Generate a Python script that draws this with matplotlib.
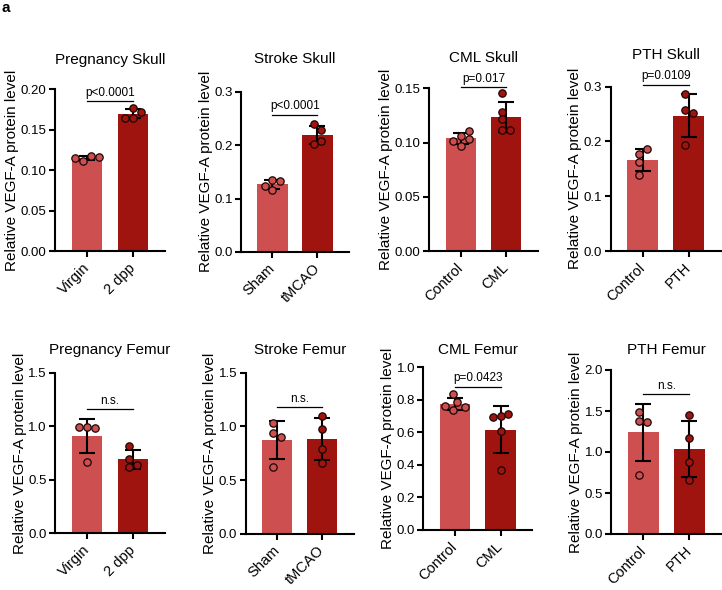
import numpy as np
import matplotlib
matplotlib.use("Agg")
import matplotlib.pyplot as plt

plt.rcParams['font.family'] = ['Liberation Sans', 'DejaVu Sans']

# values (individual animals)
preg_skull_virgin = [0.111, 0.118, 0.1145, 0.1165]
preg_skull_2dpp = [0.165, 0.1715, 0.165, 0.1765]
stroke_skull_sham = [0.1347, 0.133, 0.116, 0.124]
stroke_skull_tmcao = [0.2395, 0.228, 0.203, 0.2077]
cml_skull_control = [0.1064, 0.0968, 0.1033, 0.1017, 0.1107]
cml_skull_cml = [0.1454, 0.1285, 0.1214, 0.1116, 0.1116]
pth_skull_control = [0.178, 0.1856, 0.163, 0.1387]
pth_skull_pth = [0.2866, 0.257, 0.2525, 0.1935]

preg_femur_virgin = [0.996, 0.98, 0.996, 0.669]
preg_femur_2dpp = [0.815, 0.694, 0.616, 0.638]
stroke_femur_sham = [1.035, 0.942, 0.899, 0.626]
stroke_femur_tmcao = [1.097, 0.976, 0.790, 0.657]
cml_femur_control = [0.834, 0.789, 0.738, 0.762, 0.754]
cml_femur_cml = [0.701, 0.711, 0.693, 0.611, 0.369]
pth_femur_control = [1.492, 1.378, 1.362, 0.7195]
pth_femur_pth = [1.447, 1.167, 0.874, 0.659]

titles = ['Pregnancy Skull', 'Stroke Skull', 'CML Skull', 'PTH Skull',
          'Pregnancy Femur', 'Stroke Femur', 'CML Femur', 'PTH Femur']
group_labels = [['Virgin', '2 dpp'], ['Sham', 'tMCAO'], ['Control', 'CML'], ['Control', 'PTH'],
                ['Virgin', '2 dpp'], ['Sham', 'tMCAO'], ['Control', 'CML'], ['Control', 'PTH']]
group_values = [
    [preg_skull_virgin, preg_skull_2dpp],
    [stroke_skull_sham, stroke_skull_tmcao],
    [cml_skull_control, cml_skull_cml],
    [pth_skull_control, pth_skull_pth],
    [preg_femur_virgin, preg_femur_2dpp],
    [stroke_femur_sham, stroke_femur_tmcao],
    [cml_femur_control, cml_femur_cml],
    [pth_femur_control, pth_femur_pth],
]
sig_labels = ['p<0.0001', 'p<0.0001', 'p=0.017', 'p=0.0109',
              'n.s.', 'n.s.', 'p=0.0423', 'n.s.']
sig_heights = [0.1855, 0.257, 0.151, 0.3036, 1.158, 1.178, 0.881, 1.707]
y_max = [0.20, 0.3, 0.15, 0.3, 1.5, 1.5, 1.0, 2.0]
y_step = [0.05, 0.1, 0.05, 0.1, 0.5, 0.5, 0.2, 0.5]
y_decimals = [2, 1, 2, 1, 1, 1, 1, 1]

# layout in pixels: left, bottom, width, top
W, H = 722, 590
rects = [(55, 251, 110, 89.3), (241, 252, 108, 91.7), (429, 251, 109, 88.3), (610.7, 251, 110, 86.7),
         (55, 533.3, 110, 372.7), (245.7, 534, 108, 372.7), (423.3, 530, 109, 367.3), (611.3, 534, 110, 370)]
title_base = [64, 62.7, 61.7, 59.3, 354, 354, 354, 354]

colors = ['#CD4F4F', '#A0140F']
marker_d = 7.8  # px


def swarm(ax, x0, vals, d):
    # greedy beeswarm in pixel space, then recentred on the bar
    pts = ax.transData.transform(np.column_stack([np.full(len(vals), x0), vals]))
    ys = pts[:, 1]
    unit = ax.transData.transform([(1, 0)])[0, 0] - ax.transData.transform([(0, 0)])[0, 0]
    placed = []
    cands = [0.0]
    for i in range(1, 12):
        cands += [i * d * 0.5, -i * d * 0.5]
    for y in ys:
        for c in cands:
            if all((c - px) ** 2 + (y - py) ** 2 >= (d * 0.97) ** 2 for px, py in placed):
                placed.append((c, y))
                break
    offs = np.array([p[0] for p in placed])
    offs = offs - (offs.max() + offs.min()) / 2
    return x0 + offs / unit


fig = plt.figure(figsize=(W / 100, H / 100), dpi=100)

for k in range(8):
    l, b, w, t = rects[k]
    ax = fig.add_axes([l / W, 1 - b / H, w / W, (b - t) / H])
    ax.set_xlim(-0.7, 1.7)
    ax.set_ylim(0, y_max[k])

    for g in range(2):
        vals = np.array(group_values[k][g])
        m = vals.mean()
        sd = vals.std(ddof=1)
        ax.bar(g, m, width=0.67, color=colors[g], zorder=1)
        ax.errorbar(g, m, yerr=sd, fmt='none', ecolor='black', elinewidth=1.5,
                    capsize=5.5, capthick=1.5, zorder=3)
        xs = swarm(ax, g, vals, marker_d)
        ax.plot(xs, vals, 'o', ls='none', ms=5.3, mfc=colors[g], mec='#1a0505',
                mew=0.9, zorder=4, clip_on=False)

    # significance bar
    ax.plot([0, 1], [sig_heights[k], sig_heights[k]], color='black', lw=0.9, clip_on=False)
    ax.annotate(sig_labels[k], (0.5, sig_heights[k]), xytext=(0, 1.8),
                textcoords='offset points', ha='center', va='bottom', fontsize=8.5,
                annotation_clip=False)

    ticks = np.arange(0, y_max[k] + y_step[k] / 2, y_step[k])
    ax.set_yticks(ticks)
    ax.set_yticklabels([f'{v:.{y_decimals[k]}f}' for v in ticks], fontsize=9.5)
    ax.set_xticks([0, 1])
    ax.set_xticklabels(group_labels[k], rotation=45, ha='right', va='center',
                       rotation_mode='anchor', fontsize=10.5)
    ax.tick_params(axis='both', length=4.5, width=1.5, pad=1.5)
    ax.tick_params(axis='x', pad=6)
    for s in ['top', 'right']:
        ax.spines[s].set_visible(False)
    for s in ['left', 'bottom']:
        ax.spines[s].set_linewidth(1.5)

    ax.set_ylabel('Relative VEGF-A protein level', fontsize=11, labelpad=1)
    fig.text((l + w / 2) / W, 1 - title_base[k] / H, titles[k], ha='center',
             va='baseline', fontsize=11)

fig.text(1 / W, 1 - 12 / H, 'a', fontsize=11, fontweight='bold', va='baseline')

fig.savefig('out.png', dpi=100)
